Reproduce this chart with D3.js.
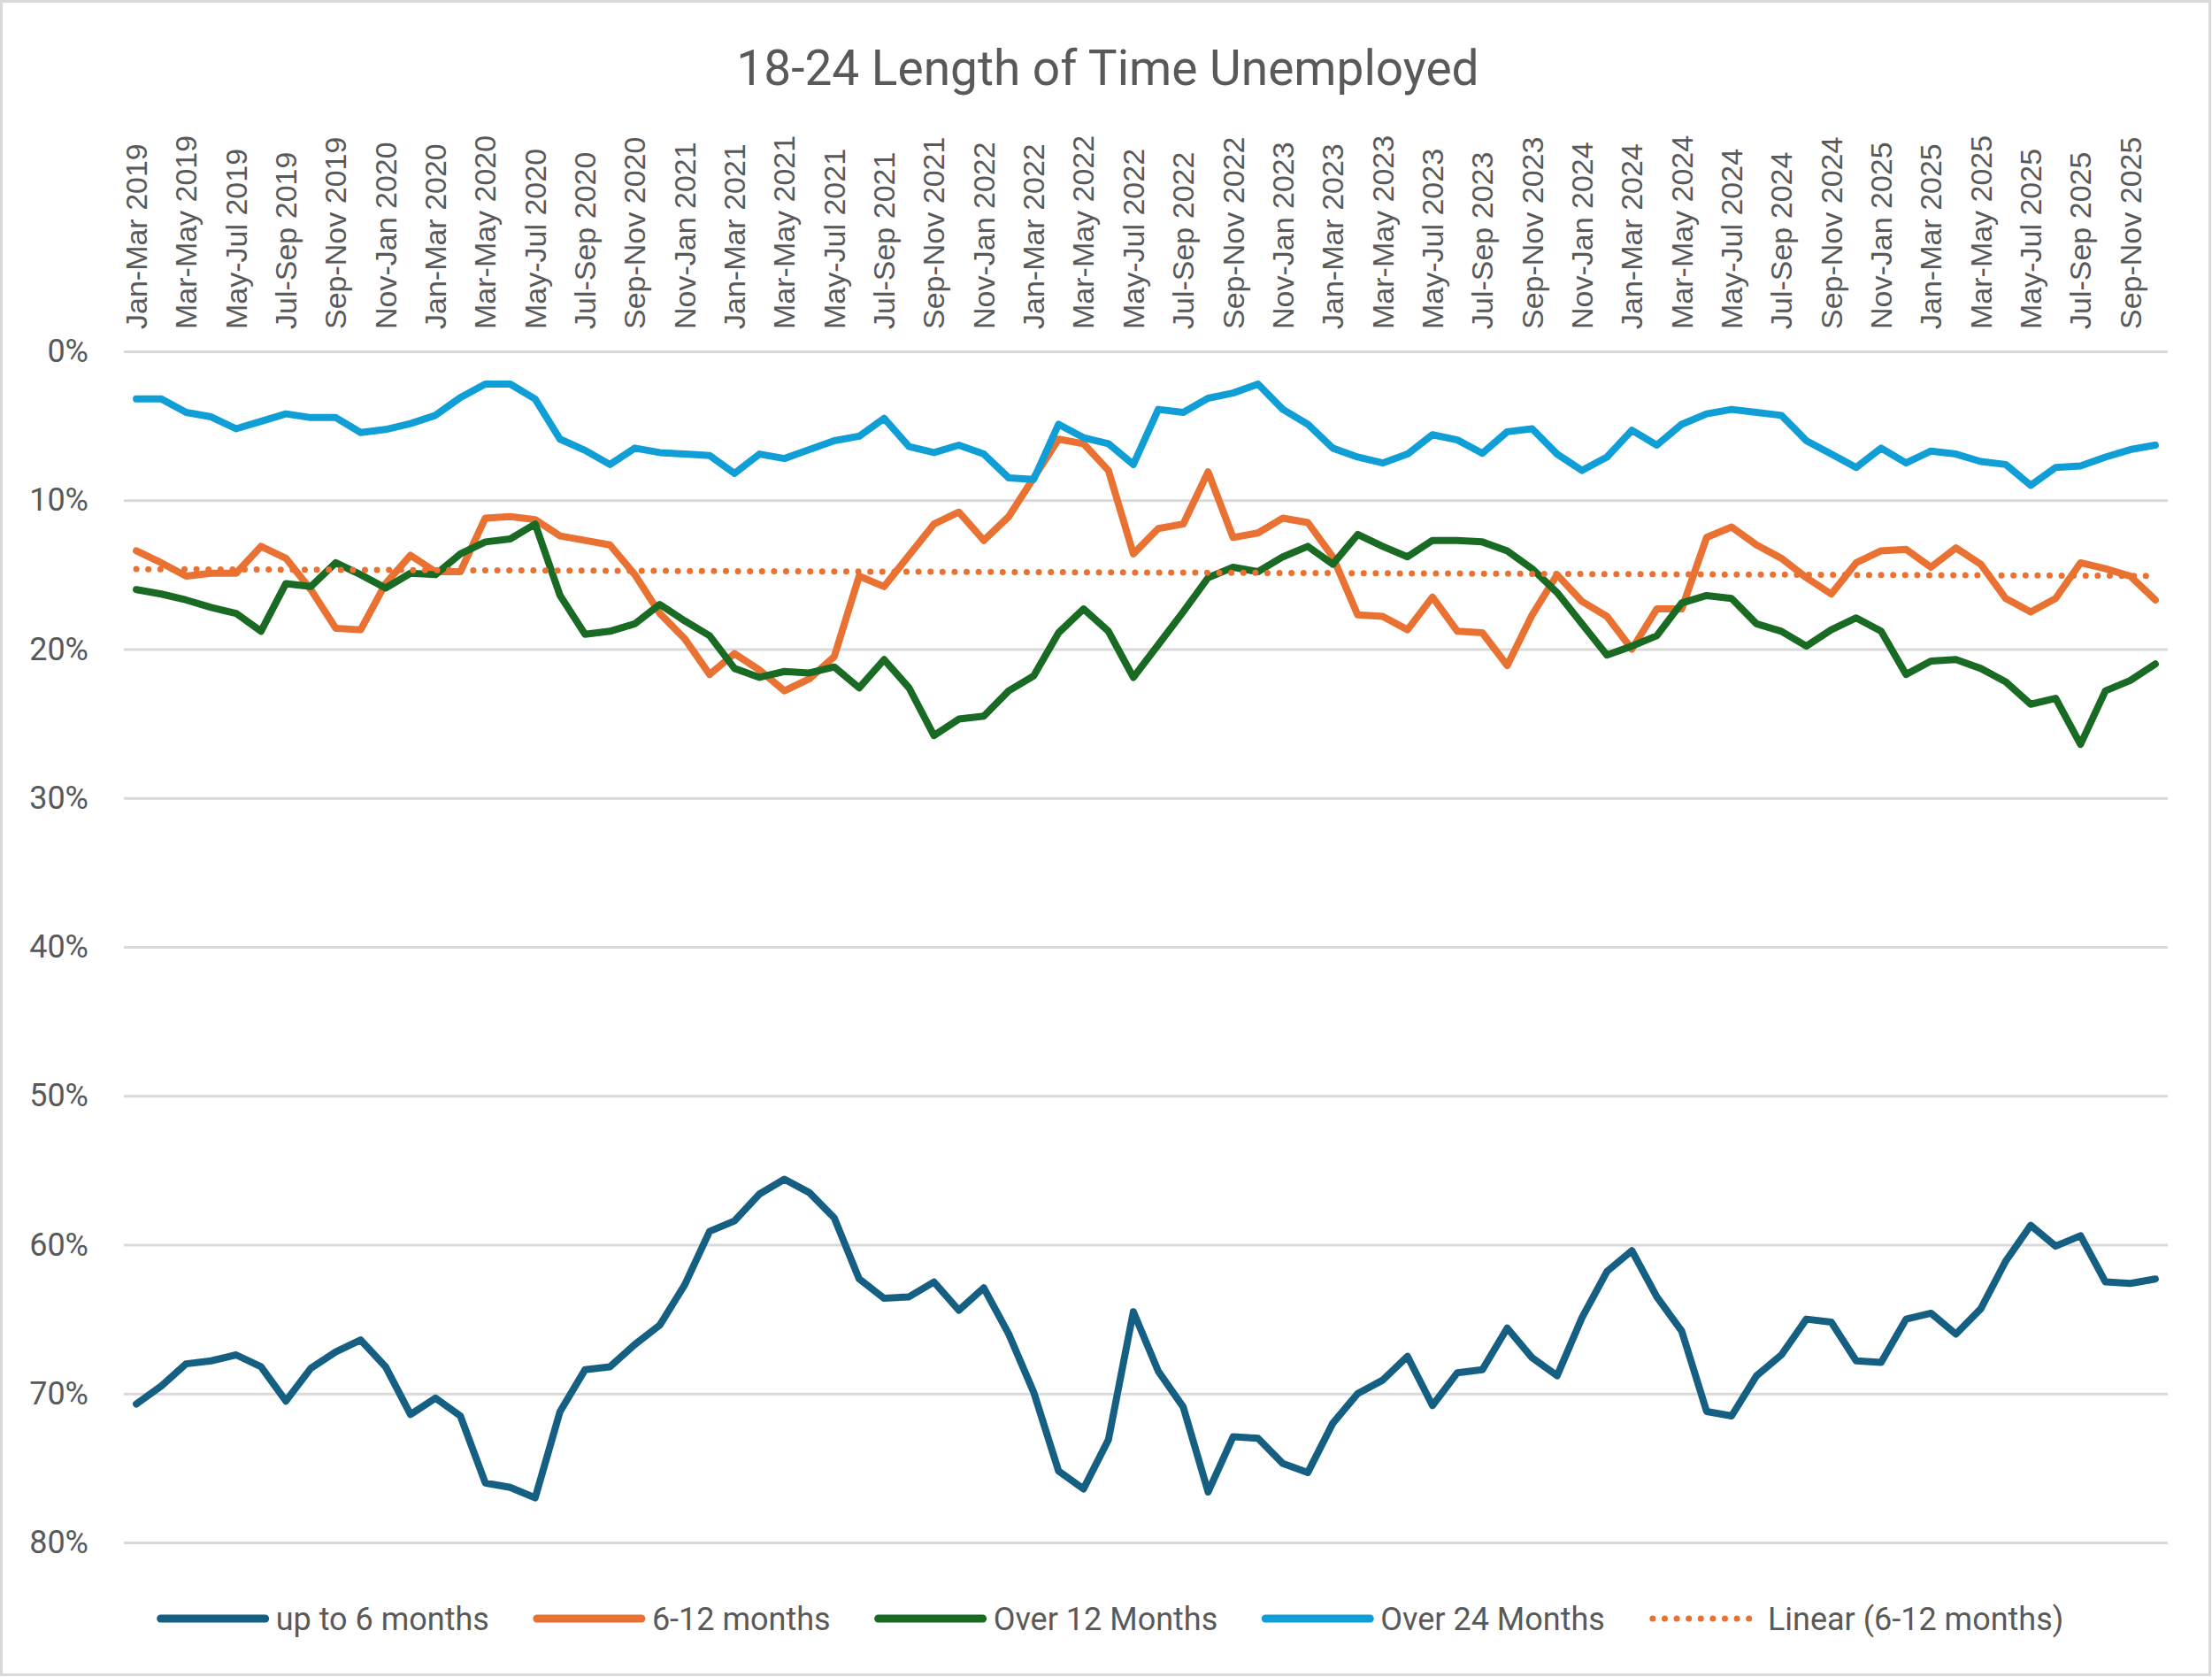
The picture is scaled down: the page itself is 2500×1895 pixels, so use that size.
<!DOCTYPE html>
<html>
<head>
<meta charset="utf-8">
<script src="https://cdn.jsdelivr.net/npm/d3@7"></script>
<style>
  html, body { margin: 0; padding: 0; background: #fff; }
  svg { display: block; }
</style>
</head>
<body>
<svg id="chart" width="2500" height="1895"></svg>
<script>
// rolling three-month periods
const periods = [
  'Jan-Mar 2019', 'Feb-Apr 2019', 'Mar-May 2019', 'Apr-Jun 2019', 'May-Jul 2019', 'Jun-Aug 2019',
  'Jul-Sep 2019', 'Aug-Oct 2019', 'Sep-Nov 2019', 'Oct-Dec 2019', 'Nov-Jan 2020', 'Dec-Feb 2020',
  'Jan-Mar 2020', 'Feb-Apr 2020', 'Mar-May 2020', 'Apr-Jun 2020', 'May-Jul 2020', 'Jun-Aug 2020',
  'Jul-Sep 2020', 'Aug-Oct 2020', 'Sep-Nov 2020', 'Oct-Dec 2020', 'Nov-Jan 2021', 'Dec-Feb 2021',
  'Jan-Mar 2021', 'Feb-Apr 2021', 'Mar-May 2021', 'Apr-Jun 2021', 'May-Jul 2021', 'Jun-Aug 2021',
  'Jul-Sep 2021', 'Aug-Oct 2021', 'Sep-Nov 2021', 'Oct-Dec 2021', 'Nov-Jan 2022', 'Dec-Feb 2022',
  'Jan-Mar 2022', 'Feb-Apr 2022', 'Mar-May 2022', 'Apr-Jun 2022', 'May-Jul 2022', 'Jun-Aug 2022',
  'Jul-Sep 2022', 'Aug-Oct 2022', 'Sep-Nov 2022', 'Oct-Dec 2022', 'Nov-Jan 2023', 'Dec-Feb 2023',
  'Jan-Mar 2023', 'Feb-Apr 2023', 'Mar-May 2023', 'Apr-Jun 2023', 'May-Jul 2023', 'Jun-Aug 2023',
  'Jul-Sep 2023', 'Aug-Oct 2023', 'Sep-Nov 2023', 'Oct-Dec 2023', 'Nov-Jan 2024', 'Dec-Feb 2024',
  'Jan-Mar 2024', 'Feb-Apr 2024', 'Mar-May 2024', 'Apr-Jun 2024', 'May-Jul 2024', 'Jun-Aug 2024',
  'Jul-Sep 2024', 'Aug-Oct 2024', 'Sep-Nov 2024', 'Oct-Dec 2024', 'Nov-Jan 2025', 'Dec-Feb 2025',
  'Jan-Mar 2025', 'Feb-Apr 2025', 'Mar-May 2025', 'Apr-Jun 2025', 'May-Jul 2025', 'Jun-Aug 2025',
  'Jul-Sep 2025', 'Aug-Oct 2025', 'Sep-Nov 2025', 'Oct-Dec 2025'
];

// only every other period gets a label on the axis
const tickLabels = periods.filter((p, i) => i % 2 === 0);

const yTicks = [0, 10, 20, 30, 40, 50, 60, 70, 80];

// shares in percent
const upTo6Months = [
  70.7, 69.5, 68.0, 67.8, 67.4, 68.2, 70.5, 68.3, 67.2, 66.4, 68.2, 71.4,
  70.3, 71.5, 76.0, 76.3, 77.0, 71.2, 68.4, 68.2, 66.7, 65.4, 62.7, 59.1,
  58.4, 56.6, 55.6, 56.5, 58.2, 62.3, 63.6, 63.5, 62.5, 64.4, 62.9, 66.0,
  69.9, 75.2, 76.4, 73.1, 64.5, 68.5, 70.9, 76.6, 72.9, 73.0, 74.7, 75.3,
  72.0, 70.0, 69.1, 67.5, 70.8, 68.6, 68.4, 65.6, 67.6, 68.8, 64.9, 61.8,
  60.4, 63.5, 65.8, 71.2, 71.5, 68.8, 67.4, 65.0, 65.2, 67.8, 67.9, 65.0,
  64.6, 66.0, 64.3, 61.1, 58.7, 60.1, 59.4, 62.5, 62.6, 62.3
];

const sixTo12Months = [
  13.4, 14.2, 15.1, 14.9, 14.9, 13.1, 13.9, 16.0, 18.6, 18.7, 15.6, 13.7,
  14.8, 14.8, 11.2, 11.1, 11.3, 12.4, 12.7, 13.0, 15.0, 17.6, 19.3, 21.7,
  20.3, 21.4, 22.8, 22.0, 20.5, 15.1, 15.8, 13.7, 11.6, 10.8, 12.7, 11.1,
  8.5, 5.9, 6.2, 8.0, 13.6, 11.9, 11.6, 8.1, 12.5, 12.2, 11.2, 11.5,
  13.8, 17.7, 17.8, 18.7, 16.5, 18.8, 18.9, 21.1, 17.7, 15.0, 16.8, 17.8,
  20.0, 17.3, 17.3, 12.5, 11.8, 13.0, 13.9, 15.2, 16.3, 14.2, 13.4, 13.3,
  14.5, 13.2, 14.3, 16.6, 17.5, 16.6, 14.2, 14.6, 15.1, 16.7
];

const over12Months = [
  16.0, 16.3, 16.7, 17.2, 17.6, 18.8, 15.6, 15.8, 14.2, 15.0, 15.9, 14.9,
  15.0, 13.6, 12.8, 12.6, 11.6, 16.4, 19.0, 18.8, 18.3, 17.0, 18.1, 19.1,
  21.3, 21.9, 21.5, 21.6, 21.2, 22.6, 20.7, 22.6, 25.8, 24.7, 24.5, 22.8,
  21.8, 18.9, 17.3, 18.8, 21.9, 19.7, 17.5, 15.2, 14.5, 14.8, 13.8, 13.1,
  14.3, 12.3, 13.1, 13.8, 12.7, 12.7, 12.8, 13.4, 14.6, 16.2, 18.3, 20.4,
  19.8, 19.1, 16.9, 16.4, 16.6, 18.3, 18.8, 19.8, 18.7, 17.9, 18.8, 21.7,
  20.8, 20.7, 21.3, 22.2, 23.7, 23.3, 26.4, 22.8, 22.1, 21.0
];

const over24Months = [
  3.2, 3.2, 4.1, 4.4, 5.2, 4.7, 4.2, 4.45, 4.45, 5.45, 5.25, 4.85,
  4.3, 3.1, 2.2, 2.2, 3.2, 5.9, 6.65, 7.6, 6.5, 6.8, 6.9, 7.0,
  8.2, 6.9, 7.2, 6.6, 6.0, 5.7, 4.5, 6.4, 6.8, 6.3, 6.9, 8.5,
  8.6, 4.9, 5.8, 6.2, 7.6, 3.9, 4.1, 3.15, 2.8, 2.2, 3.9, 4.9,
  6.5, 7.1, 7.5, 6.9, 5.6, 5.95, 6.85, 5.4, 5.2, 6.9, 8.0, 7.1,
  5.3, 6.3, 4.9, 4.2, 3.9, 4.1, 4.3, 6.0, 6.9, 7.8, 6.5, 7.5,
  6.7, 6.9, 7.4, 7.6, 9.0, 7.8, 7.7, 7.1, 6.6, 6.3
];

const seriesNames = ['up to 6 months', '6-12 months', 'Over 12 Months', 'Over 24 Months'];
const seriesColors = ['#156082', '#E97132', '#196B24', '#0F9ED5'];
const seriesValues = [upTo6Months, sixTo12Months, over12Months, over24Months];

const textColor = '#595959';
const gridColor = '#D9D9D9';

const svg = d3.select('#chart');
const width = 2500;
const height = 1895;
const plot = { left: 140, right: 2450, top: 397, bottom: 1743 };

// chart border
svg.append('rect')
    .attr('x', 1.5)
    .attr('y', 1.5)
    .attr('width', width - 4)
    .attr('height', height - 4)
    .attr('fill', '#fff')
    .attr('stroke', gridColor)
    .attr('stroke-width', 3);

const x = d3.scalePoint()
    .domain(d3.range(periods.length))
    .range([plot.left, plot.right])
    .padding(0.5);

// reversed axis: 0% at the top
const y = d3.scaleLinear()
    .domain([0, 80])
    .range([plot.top, plot.bottom]);

// Title
svg.append('text')
    .attr('x', 1252)
    .attr('y', 96)
    .attr('text-anchor', 'middle')
    .attr('font-family', 'Roboto, sans-serif')
    .attr('font-size', 55)
    .attr('fill', textColor)
    .text('18-24 Length of Time Unemployed');

// Horizontal grid lines
const yAxis = svg.append('g')
    .attr('transform', `translate(${plot.left},0)`)
    .call(d3.axisLeft(y)
        .tickValues(yTicks)
        .tickSize(-(plot.right - plot.left))
        .tickPadding(40)
        .tickFormat(d => d + '%'));

yAxis.select('.domain').remove();
yAxis.selectAll('line')
    .attr('stroke', gridColor)
    .attr('stroke-width', 3);
yAxis.selectAll('text')
    .attr('font-family', 'Roboto, sans-serif')
    .attr('font-size', 36)
    .attr('fill', textColor);

// Category labels along the top, rotated
const xAxis = svg.append('g');
xAxis.selectAll('text')
    .data(tickLabels)
    .join('text')
    .attr('transform', (d, i) => `translate(${x(i * 2)},372) rotate(-90)`)
    .attr('dy', '0.35em')
    .attr('font-family', '"Liberation Sans", Arial, sans-serif')
    .attr('font-size', 34)
    .attr('fill', textColor)
    .text(d => d);

const line = d3.line()
    .x((d, i) => x(i))
    .y(d => y(d));

// Linear trend of the 6-12 months series (least squares)
const n = sixTo12Months.length;
const meanX = d3.mean(d3.range(n));
const meanY = d3.mean(sixTo12Months);
const slope = d3.sum(sixTo12Months, (v, i) => (i - meanX) * (v - meanY)) /
    d3.sum(d3.range(n), i => (i - meanX) * (i - meanX));
const intercept = meanY - slope * meanX;

// Draw the series lines
seriesValues.forEach((values, k) => {
    svg.append('path')
        .datum(values)
        .attr('fill', 'none')
        .attr('stroke', seriesColors[k])
        .attr('stroke-width', 8)
        .attr('stroke-linejoin', 'round')
        .attr('stroke-linecap', 'round')
        .attr('d', line);
});

svg.append('line')
    .attr('x1', x(0))
    .attr('y1', y(intercept))
    .attr('x2', x(n - 1))
    .attr('y2', y(intercept + slope * (n - 1)))
    .attr('stroke', seriesColors[1])
    .attr('stroke-width', 7)
    .attr('stroke-linecap', 'round')
    .attr('stroke-dasharray', '0,13.6');

// Legend
const legendItems = seriesNames.map((name, k) => ({ name, color: seriesColors[k], dotted: false }))
    .concat([{ name: 'Linear (6-12 months)', color: seriesColors[1], dotted: true }]);

const legend = svg.append('g');
const sampleLen = 118;
const textGap = 12;
const itemGap = 54;
let cursor = 0;

legendItems.forEach(item => {
    const g = legend.append('g').attr('transform', `translate(${cursor},0)`);
    g.append('line')
        .attr('x1', 0)
        .attr('x2', sampleLen)
        .attr('stroke', item.color)
        .attr('stroke-width', item.dotted ? 7 : 9)
        .attr('stroke-linecap', 'round')
        .attr('stroke-dasharray', item.dotted ? '0,13.6' : null);
    const t = g.append('text')
        .attr('x', sampleLen + textGap)
        .attr('dy', '0.35em')
        .attr('font-family', 'Roboto, sans-serif')
        .attr('font-size', 36)
        .attr('fill', textColor)
        .text(item.name);
    cursor += sampleLen + textGap + t.node().getComputedTextLength() + itemGap;
});

const legendWidth = cursor - itemGap;
legend.attr('transform', `translate(${1257 - legendWidth / 2},1829)`);
</script>
</body>
</html>
